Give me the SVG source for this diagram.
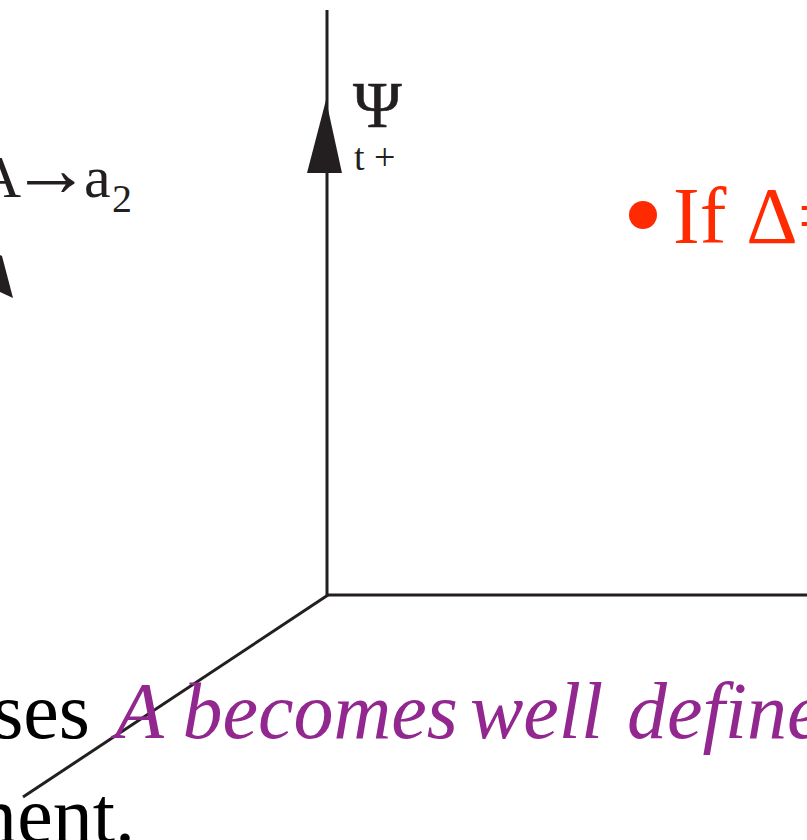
<svg xmlns="http://www.w3.org/2000/svg" width="807" height="840" viewBox="0 0 807 840">
<style>
.ax{stroke:#231f20;stroke-width:3;fill:none}
.blk{font-family:"Liberation Serif",serif;fill:#231f20}
.red{font-family:"Liberation Serif",serif;fill:#ff2a00}
.pur{font-family:"Liberation Serif",serif;font-style:italic;fill:#92278f}
.txt{font-family:"Liberation Serif",serif;fill:#000}
</style>
<rect width="807" height="840" fill="#fff"/>
<g id="connectors">
<line class="ax" x1="327" y1="10" x2="327" y2="595"/>
<line class="ax" x1="326" y1="595" x2="807" y2="595"/>
<line class="ax" x1="328" y1="595" x2="23" y2="797"/>
<polygon points="326,100 307,173 342,173" fill="#231f20"/>
<polygon points="0,255 2,256 13,298 0,292" fill="#231f20"/>
</g>
<g id="psi-label">
<text class="blk" font-size="66"><tspan x="353" y="127" stroke="#231f20" stroke-width="0.6">Ψ</tspan><tspan x="354" y="170" font-size="38">t +</tspan></text>
</g>
<g id="a-label">
<text class="blk" y="197" font-size="60"><tspan x="21" text-anchor="end">A</tspan><tspan x="11" y="196" font-size="80">→</tspan><tspan x="84" y="197">a</tspan><tspan x="112" y="212" font-size="40">2</tspan></text>
</g>
<g id="red-bullet">
<circle cx="643" cy="215" r="14" fill="#ff2a00"/>
<text class="red" x="673" y="243" font-size="80">If Δ=</text>
</g>
<g id="bottom-text">
<text class="txt" x="90" y="738" font-size="80" text-anchor="end">ses</text>
<text class="pur" y="738" font-size="80"><tspan x="115">A becomes</tspan><tspan x="470">well</tspan><tspan x="627">defined</tspan></text>
<text class="txt" x="135" y="842" font-size="80" text-anchor="end">ment.</text>
</g>
</svg>
